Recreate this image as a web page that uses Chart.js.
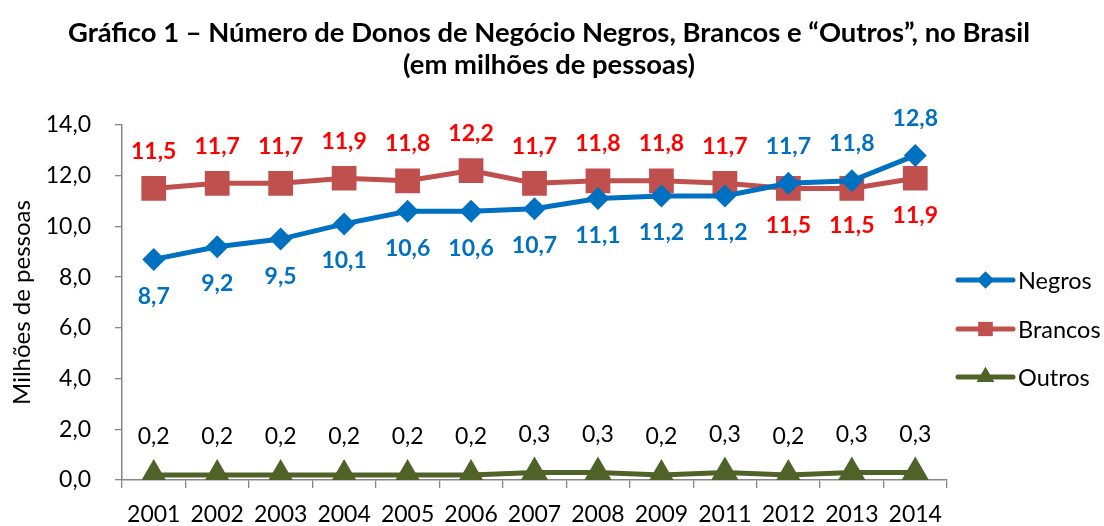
<!DOCTYPE html>
<html>
<head>
<meta charset="utf-8">
<script src="https://cdn.jsdelivr.net/npm/chart.js@4.4.1/dist/chart.umd.min.js"></script>
<style>
  html, body { margin: 0; padding: 0; background: #fff; }
  #wrap { position: relative; width: 1104px; height: 526px; }
  #titulo {
    position: absolute; top: 16px; left: 0; width: 1098px;
    text-align: center; font-family: Lato, "Open Sans", sans-serif;
    font-weight: bold; font-size: 27.4px; line-height: 32px; color: #000;
  }
</style>
</head>
<body>
<div id="wrap">
  <canvas id="chart" width="1104" height="526"></canvas>
  <div id="titulo">Gráfico 1 – Número de Donos de Negócio Negros, Brancos e “Outros”, no Brasil<br>(em milhões de pessoas)</div>
</div>
<script>
const anos = ['2001', '2002', '2003', '2004', '2005', '2006', '2007', '2008', '2009', '2011', '2012', '2013', '2014'];
const negros = [8.7, 9.2, 9.5, 10.1, 10.6, 10.6, 10.7, 11.1, 11.2, 11.2, 11.7, 11.8, 12.8];
const brancos = [11.5, 11.7, 11.7, 11.9, 11.8, 12.2, 11.7, 11.8, 11.8, 11.7, 11.5, 11.5, 11.9];
const outros = [0.2, 0.2, 0.2, 0.2, 0.2, 0.2, 0.3, 0.3, 0.2, 0.3, 0.2, 0.3, 0.3];
const yMin = 0, yMax = 14, yStep = 2;

const FONT = 'Lato, "Open Sans", sans-serif';
const fmt = v => v.toFixed(1).replace('.', ',');

// series styles
const series = [
  { label: 'Negros', data: negros, color: '#0070C0', labelColor: '#0070C0', point: 'rectRot', r: 11.5, legendR: 8.5, bold: true },
  { label: 'Brancos', data: brancos, color: '#C0504D', labelColor: '#FF0000', point: 'rect', r: 17.5, legendR: 10, bold: true },
  { label: 'Outros', data: outros, color: '#4F6228', labelColor: '#000000', point: 'triangle', r: 16, legendR: 10, bold: false }
];

// value labels: above/below depending on which line is higher
const valueLabels = {
  id: 'valueLabels',
  afterDatasetsDraw(chart) {
    const ctx = chart.ctx;
    ctx.save();
    ctx.textAlign = 'center';
    ctx.textBaseline = 'middle';
    chart.data.datasets.forEach((ds, i) => {
      const s = series[i];
      ctx.fillStyle = s.labelColor;
      ctx.font = (s.bold ? 'bold ' : '') + '23px ' + FONT;
      chart.getDatasetMeta(i).data.forEach((pt, j) => {
        let dy;
        if (i === 2) {
          dy = -38;
        } else {
          const other = chart.data.datasets[1 - i].data[j];
          dy = ds.data[j] > other ? -37 : 37;
        }
        ctx.fillText(fmt(ds.data[j]), pt.x, pt.y + dy);
      });
    });
    ctx.restore();
  }
};

// legend on the right: line + marker + name
const sideLegend = {
  id: 'sideLegend',
  afterDraw(chart) {
    const ctx = chart.ctx;
    const x0 = 958, x1 = 1013, ys = [280, 329, 377];
    ctx.save();
    series.forEach((s, i) => {
      const y = ys[i];
      ctx.strokeStyle = s.color;
      ctx.lineWidth = 5;
      ctx.lineCap = 'round';
      ctx.beginPath();
      ctx.moveTo(x0, y);
      ctx.lineTo(x1, y);
      ctx.stroke();
      ctx.fillStyle = s.color;
      Chart.helpers.drawPoint(ctx, { pointStyle: s.point, radius: s.legendR, rotation: 0, borderWidth: 0 }, (x0 + x1) / 2, y);
      ctx.fill();
      ctx.fillStyle = '#000';
      ctx.font = '23.5px ' + FONT;
      ctx.textAlign = 'left';
      ctx.textBaseline = 'middle';
      ctx.fillText(s.label, 1018, y + 1);
    });
    ctx.restore();
  }
};

new Chart(document.getElementById('chart'), {
  type: 'line',
  data: {
    labels: anos,
    datasets: series.map(s => ({
      label: s.label,
      data: s.data,
      borderColor: s.color,
      backgroundColor: s.color,
      borderWidth: 5,
      pointStyle: s.point,
      pointRadius: s.r,
      pointHoverRadius: s.r,
      pointBorderWidth: 0,
      pointBackgroundColor: s.color,
      tension: 0
    }))
  },
  options: {
    responsive: false,
    animation: false,
    devicePixelRatio: 1,
    layout: { padding: { left: 0, right: 157, top: 125, bottom: 0 } },
    plugins: {
      legend: { display: false },
      tooltip: { enabled: false },
      title: { display: false }
    },
    scales: {
      x: {
        offset: true,
        afterFit(scale) { scale.height = 46; },
        grid: { display: true, drawOnChartArea: false, drawTicks: true, tickLength: 8, color: '#868686', lineWidth: 1.3, offset: true },
        border: { display: true, color: '#868686', width: 1.5 },
        ticks: { color: '#000', font: { family: FONT, size: 23 }, padding: 13, maxRotation: 0, autoSkip: false }
      },
      y: {
        min: yMin,
        max: yMax,
        afterFit(scale) { scale.width = 122; },
        grid: { display: true, drawOnChartArea: false, drawTicks: true, tickLength: 7, color: '#868686', lineWidth: 1.3 },
        border: { display: true, color: '#868686', width: 1.5 },
        ticks: { stepSize: yStep, color: '#000', font: { family: FONT, size: 23 }, padding: 24, callback: v => fmt(v) },
        title: { display: true, text: 'Milhões de pessoas', color: '#000', font: { family: FONT, size: 24 }, padding: { top: 8, bottom: 0 } }
      }
    }
  },
  plugins: [valueLabels, sideLegend]
});
</script>
</body>
</html>
